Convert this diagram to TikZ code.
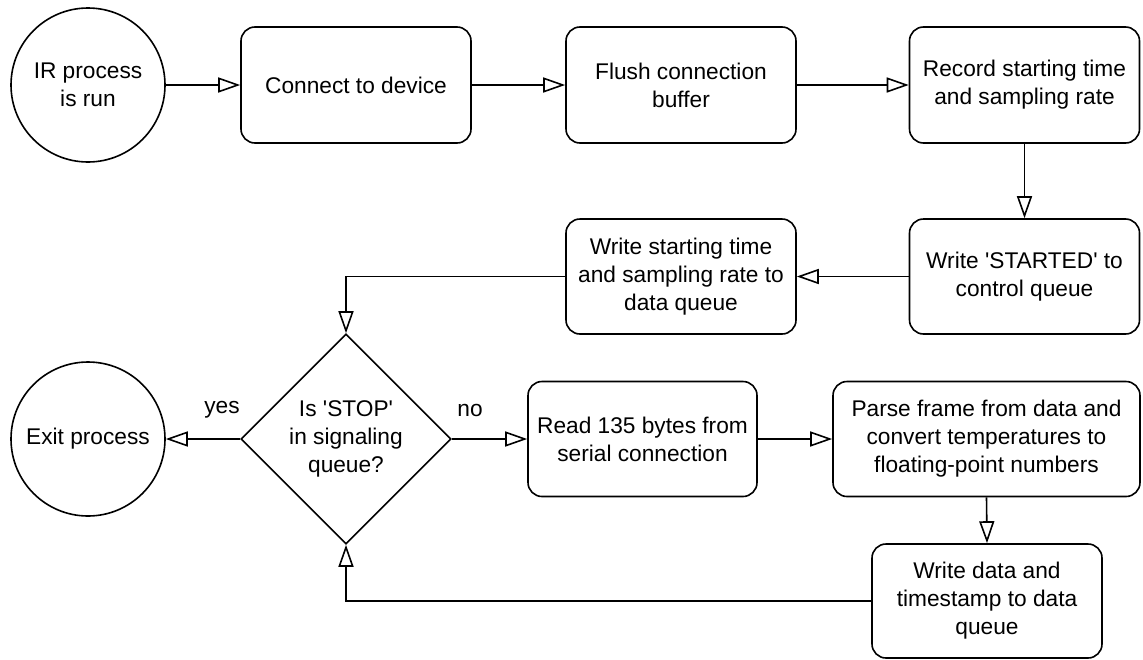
\documentclass[tikz,border=0pt]{standalone}
\usepackage{fontspec}
\setmainfont{Liberation Sans}
\usetikzlibrary{arrows.meta,shapes.geometric}

\tikzset{
  base/.style={draw=black, line width=1.6pt, align=center, inner sep=0pt,
    font=\fontsize{22.7}{28}\selectfont},
  stepbox/.style={base, rectangle, rounded corners=14pt,
    minimum width=230pt, minimum height=116pt},
  terminal/.style={base, circle, minimum size=154pt},
  decision/.style={base, diamond, minimum width=210pt, minimum height=210pt},
  flow/.style={line width=1.6pt,
    -{Triangle[open, length=22pt, width=15pt, line width=1.6pt]}},
  lbl/.style={font=\fontsize{22.7}{28}\selectfont, inner sep=0pt}
}

\begin{document}
\begin{tikzpicture}[x=1pt, y=-1pt]
  \useasboundingbox (0,0) rectangle (1143,659);

  % top row
  \node[terminal] (start)  at (88,85)     {IR process\\is run};
  \node[stepbox]  (conn)   at (356,85)    {Connect to device};
  \node[stepbox]  (flush)  at (681,85)    {Flush connection\\buffer};
  \node[stepbox]  (record) at (1024.5,85) {Record starting time\\and sampling rate};

  % second row
  \node[stepbox, minimum height=115pt] (started) at (1024.5,276.5) {Write \textquotesingle STARTED\textquotesingle{} to\\control queue};
  \node[stepbox, minimum height=115pt] (wstart)  at (681,276.5)    {Write starting time\\and sampling rate to\\data queue};

  % decision row
  \node[decision] (stop) at (346,439) {Is \textquotesingle STOP\textquotesingle\\in signaling\\queue?};
  \node[terminal] (exit) at (88,439)  {Exit process};
  \node[stepbox, minimum width=229pt, minimum height=115pt] (read)  at (642.5,439) {Read 135 bytes from\\serial connection};
  \node[stepbox, minimum width=307pt, minimum height=115pt] (parse) at (986.5,439) {Parse frame from data and\\convert temperatures to\\floating-point numbers};

  % bottom
  \node[stepbox, minimum height=114pt] (wdata) at (987,601) {Write data and\\timestamp to data\\queue};

  % branch labels
  \node[lbl] (yes) at (222,410) {yes};
  \node[lbl] (no)  at (470,410) {no};

  % connectors
  \draw[flow] (start.east)   -- (conn.west);
  \draw[flow] (conn.east)    -- (flush.west);
  \draw[flow] (flush.east)   -- (record.west);
  \draw[flow] (record.south) -- (started.north);
  \draw[flow] (started.west) -- (wstart.east);
  \draw[flow] (wstart.west)  -| (stop.north);
  \draw[flow] (stop.east)    -- (read.west);
  \draw[flow] (stop.west)    -- (exit.east);
  \draw[flow] (read.east)    -- (parse.west);
  \draw[flow] (parse.south)  -- (wdata.north);
  \draw[flow] (wdata.west)   -| (stop.south);
\end{tikzpicture}
\end{document}
